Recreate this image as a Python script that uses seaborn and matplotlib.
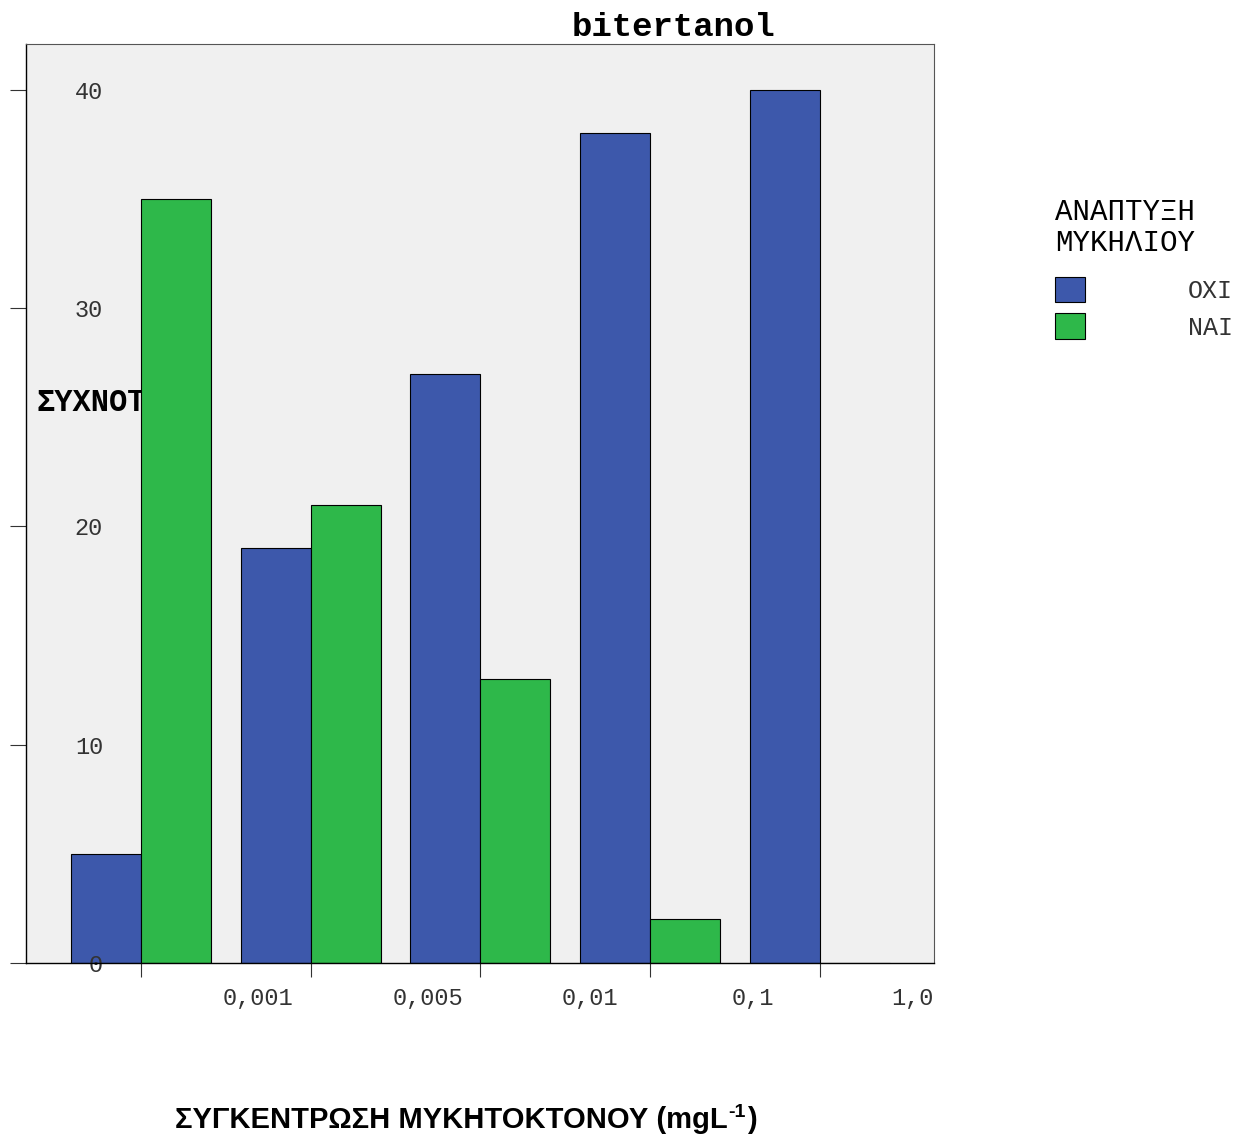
import pandas as pd
import matplotlib
matplotlib.use("Agg")
import matplotlib.pyplot as plt
import seaborn as sns

# Data
concentrations = ["0", "0,001", "0,005", "0,01", "0,1"]
x_tick_labels = ["0,001", "0,005", "0,01", "0,1", "1,0"]
no_growth = [5, 19, 27, 38, 40]   # ΟΧΙ
growth = [35, 21, 13, 2, 0]       # ΝΑΙ
groups = ["ΟΧΙ", "ΝΑΙ"]
y_ticks = [0, 10, 20, 30, 40]

BLUE = "#3d58ab"
GREEN = "#2eb84a"
MONO = ["Liberation Mono", "DejaVu Sans Mono"]
SANS = ["Liberation Sans", "DejaVu Sans"]


def build_frame():
    rows = []
    for conc, n, g in zip(concentrations, no_growth, growth):
        rows.append({"conc": conc, "growth": groups[0], "count": n})
        rows.append({"conc": conc, "growth": groups[1], "count": g})
    return pd.DataFrame(rows)


def draw_chart(df):
    fig = plt.figure(figsize=(12.46, 11.39), dpi=100)
    ax = fig.add_axes([26 / 1246, 1 - 963 / 1139, (934 - 26) / 1246, (963 - 44) / 1139])
    ax.set_facecolor("#f0f0f0")

    sns.barplot(
        data=df, x="conc", y="count", hue="growth", order=concentrations,
        hue_order=groups, palette={groups[0]: BLUE, groups[1]: GREEN},
        width=0.825, edgecolor="black", linewidth=0.8, saturation=1,
        errorbar=None, ax=ax,
    )

    ax.set_xlim(-0.677, 4.672)
    ax.set_ylim(0, 42.1)
    ax.set_xlabel("")
    ax.set_ylabel("")

    # y axis: ticks outside, labels drawn inside the plot area
    ax.set_yticks(y_ticks)
    ax.set_yticklabels([str(v) for v in y_ticks], family=MONO, fontsize=17, color="#333333")
    ax.tick_params(axis="y", direction="out", length=11.5, width=0.8, color="#333333", pad=-67)
    for lbl in ax.get_yticklabels():
        lbl.set_verticalalignment("center_baseline")

    # x axis: ticks at bar-group centres, labels shifted to the right
    ax.set_xticks(range(len(concentrations)))
    ax.set_xticklabels([])
    ax.tick_params(axis="x", direction="out", length=10, width=0.8, color="#333333")
    for i, lab in enumerate(x_tick_labels):
        if i == len(x_tick_labels) - 1:
            ax.text(4.672, -1.1, lab, ha="right", va="top", family=MONO, fontsize=17, color="#333333")
        else:
            ax.text(i + 0.48, -1.1, lab, ha="left", va="top", family=MONO, fontsize=17, color="#333333")

    for side in ["left", "bottom"]:
        ax.spines[side].set_color("black")
        ax.spines[side].set_linewidth(1.0)
    for side in ["top", "right"]:
        ax.spines[side].set_color("#555555")
        ax.spines[side].set_linewidth(0.8)

    # y-axis title sits behind the bars, as in the original
    ax.text(37 / 1246, 1 - 403 / 1139, "ΣΥΧΝΟΤΗΤΑ", transform=fig.transFigure,
            ha="left", va="center", family=MONO, fontsize=22, fontweight="bold", zorder=0.5)

    fig.text(673 / 1246, 1 - 27 / 1139, "bitertanol", ha="center", va="center",
             family=MONO, fontsize=24.5, fontweight="bold")

    # x-axis title with a small superscript
    t1 = fig.text(175 / 1246, 1 - 1128 / 1139, "ΣΥΓΚΕΝΤΡΩΣΗ ΜΥΚΗΤΟΚΤΟΝΟΥ (mgL",
                  ha="left", va="baseline", family=SANS, fontsize=21, fontweight="bold")
    t2 = fig.add_artist(plt.Annotation("-1", xy=(1, 1), xycoords=t1, xytext=(0.5, 1.5),
                                       textcoords="offset points", ha="left", va="top",
                                       family=SANS, fontsize=14, fontweight="bold"))
    fig.add_artist(plt.Annotation(")", xy=(1, 0), xycoords=(t2, t1), xytext=(1, 0),
                                  textcoords="offset points", ha="left", va="bottom",
                                  family=SANS, fontsize=21, fontweight="bold"))

    handles, labels = ax.get_legend_handles_labels()
    ax.get_legend().remove()
    leg = fig.legend(
        handles, labels, title="ΑΝΑΠΤΥΞΗ\nΜΥΚΗΛΙΟΥ", loc="upper left",
        bbox_to_anchor=(1055 / 1246, 1 - 198 / 1139), frameon=False, alignment="left",
        prop={"family": MONO, "size": 18}, title_fontproperties={"family": MONO, "size": 21},
        handlelength=1.2, handleheight=1.2, handletextpad=4.1, labelspacing=0.42,
        borderpad=0, borderaxespad=0,
    )
    leg.get_title().set_linespacing(1.15)
    leg._legend_box.sep = 14
    for t in leg.get_texts():
        t.set_color("#333333")

    fig.savefig("out.png", dpi=100)


if __name__ == "__main__":
    draw_chart(build_frame())
